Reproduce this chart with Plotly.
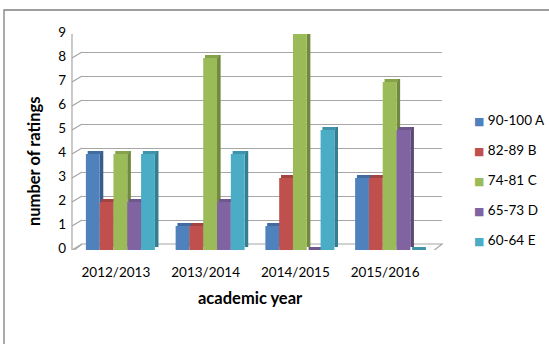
import plotly.graph_objects as go

categories = ["2012/2013", "2013/2014", "2014/2015", "2015/2016"]
series_names = ["90-100 A", "82-89 B", "74-81 C", "65-73 D", "60-64 E"]
vals_a = [4, 1, 1, 3]
vals_b = [2, 1, 3, 3]
vals_c = [4, 8, 9, 7]
vals_d = [2, 2, 0, 5]
vals_e = [4, 4, 5, 0]
y_ticks = [0, 1, 2, 3, 4, 5, 6, 7, 8, 9]

series_values = [vals_a, vals_b, vals_c, vals_d, vals_e]
front_colors = ["#4F81BD", "#C0504D", "#9BBB59", "#8064A2", "#4BACC6"]
side_colors = ["#385D8A", "#8C3836", "#71893F", "#5C4776", "#357D91"]
top_colors = ["#426C9F", "#A44442", "#86A24B", "#6E578C", "#3F94AB"]

W, H = 549, 344
def px(x):
    return x / W
def py(y):
    return 1 - y / H

# geometry (pixels)
FX0, FX1 = 71, 430        # front (bars) x extent
BX0, BX1 = 82, 442        # back wall x extent
Y0F, Y9F = 250, 34        # front: value 0 / 9
Y0B, Y9B = 244, 28        # back wall: value 0 / 9
unit = (Y0F - Y9F) / 9.0
cat_px = (FX1 - FX0) / 4.0
bar_w = 13.8 / cat_px
dx = 3.6 / cat_px
dy = 3.0 / unit
left0 = -30.0 / cat_px
back_dy = (Y0F - Y0B) / unit

fig = go.Figure()

# back wall gridlines subplot (x, y)
fig.add_trace(go.Scatter(x=[0], y=[0], mode="markers", marker=dict(opacity=0),
                         showlegend=False, hoverinfo="skip", xaxis="x", yaxis="y"))

# side and top faces
for i, (name, vals) in enumerate(zip(series_names, series_values)):
    off = left0 + i * bar_w
    fig.add_trace(go.Bar(x=categories, y=vals, base=[dy] * len(vals),
                         offset=off + bar_w, width=dx,
                         marker=dict(color=side_colors[i], line=dict(width=0)),
                         showlegend=False, hoverinfo="skip", legendgroup=name,
                         xaxis="x2", yaxis="y2", cliponaxis=False))
    fig.add_trace(go.Bar(x=categories, y=[dy] * len(vals), base=vals,
                         offset=off + dx * 0.5, width=bar_w,
                         marker=dict(color=top_colors[i], line=dict(width=0)),
                         showlegend=False, hoverinfo="skip", legendgroup=name,
                         xaxis="x2", yaxis="y2", cliponaxis=False))

# front faces
for i, (name, vals) in enumerate(zip(series_names, series_values)):
    off = left0 + i * bar_w
    fig.add_trace(go.Bar(x=categories, y=vals, name=name,
                         offset=off, width=bar_w,
                         marker=dict(color=front_colors[i], line=dict(width=0)),
                         showlegend=False, legendgroup=name,
                         xaxis="x2", yaxis="y2", cliponaxis=False))

# legend entries (compact coloured square glyph before the label)
for i, name in enumerate(series_names):
    label = (f'<span style="color:{front_colors[i]};font-family:DejaVu Sans;font-size:11px">'
             f'\u25A0</span> {name}')
    fig.add_trace(go.Scatter(x=[None], y=[None], mode="none", name=label,
                             legendgroup=name, xaxis="x2", yaxis="y2"))

shapes = []
grid_col = "#A6A6A6"
# floor
shapes.append(dict(type="path", xref="paper", yref="y2",
                   path=f"M {px(FX0+1)} {-2/unit} L {px(FX1+2)} {-2/unit} L {px(BX1)} {back_dy} L {px(BX0)} {back_dy} Z",
                   line=dict(color=grid_col, width=1.2), fillcolor="white", layer="below"))
# left wall front edge
shapes.append(dict(type="line", xref="paper", yref="y2", x0=px(FX0 + 1), x1=px(FX0 + 1),
                   y0=-2 / unit, y1=9, line=dict(color=grid_col, width=1.2)))
# left wall diagonals for each tick
for v in y_ticks:
    shapes.append(dict(type="line", xref="paper", yref="y2", x0=px(FX0 + 1), x1=px(BX0),
                       y0=v, y1=v + back_dy, line=dict(color=grid_col, width=1.2)))
# outer chart border
shapes.append(dict(type="rect", xref="paper", yref="paper", x0=px(4), x1=px(W + 10),
                   y0=py(H + 10), y1=py(10), line=dict(color="#7F7F7F", width=1.3),
                   fillcolor="rgba(0,0,0,0)"))

font_fam = "Lato, Carlito, 'Liberation Sans', sans-serif"
fig.update_layout(
    width=W, height=H,
    margin=dict(l=0, r=0, t=0, b=0, autoexpand=False),
    paper_bgcolor="white", plot_bgcolor="rgba(0,0,0,0)",
    barmode="overlay",
    font=dict(family=font_fam, size=13.5, color="#000000"),
    showlegend=True,
    legend=dict(x=px(434), y=py(104), xanchor="left", yanchor="top",
                font=dict(size=13.5, family=font_fam, color="#000000"),
                tracegroupgap=9.5, itemwidth=30, bgcolor="rgba(0,0,0,0)"),
    xaxis=dict(domain=[px(BX0), px(BX1)], range=[0, 1], showgrid=False, showticklabels=False,
               zeroline=False, showline=False, ticks="", fixedrange=True),
    yaxis=dict(domain=[py(Y0B), py(Y9B)], range=[0, 9], anchor="x", tickvals=y_ticks,
               showgrid=True, gridcolor=grid_col, gridwidth=1.2, showticklabels=False,
               zeroline=False, showline=False, ticks=""),
    xaxis2=dict(domain=[px(FX0), px(FX1)], range=[-0.5, 3.5], type="category", anchor="y2",
                showgrid=False, zeroline=False, showline=False, ticks="",
                tickfont=dict(size=13.5, color="#000000"), ticklabelstandoff=12),
    yaxis2=dict(domain=[py(Y0F), py(Y9F)], range=[0, 9], anchor="x2", tickvals=y_ticks,
                showgrid=False, zeroline=False, showline=False, ticks="",
                tickfont=dict(size=13.5, color="#000000"), ticklabelstandoff=4,
                ticklabelshift=-2),
    shapes=shapes,
    annotations=[
        dict(text="<b>number of ratings</b>", xref="paper", yref="paper", x=px(34), y=py(161),
             textangle=-90, showarrow=False, font=dict(size=16.5, family=font_fam, color="#000000"),
             xanchor="center", yanchor="middle"),
        dict(text="<b>academic year</b>", xref="paper", yref="paper", x=px(250), y=py(298),
             showarrow=False, font=dict(size=16.5, family=font_fam, color="#000000"),
             xanchor="center", yanchor="middle"),
    ],
)

fig.write_html("out.html", config={"displayModeBar": False},
               post_script="document.body.style.margin='0';document.body.style.overflow='hidden';")
